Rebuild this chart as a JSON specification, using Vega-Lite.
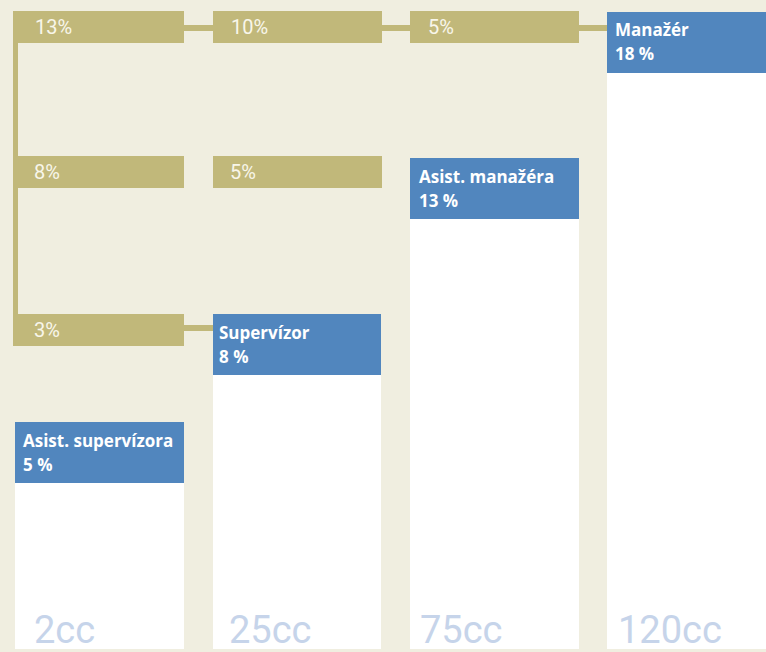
{
  "$schema": "https://vega.github.io/schema/vega-lite/v6.json",
  "width": 766,
  "height": 652,
  "autosize": {"type": "fit", "contains": "padding"},
  "padding": 0,
  "background": "#F0EEE0",
  "config": {"view": {"stroke": null}},
  "datasets": {
    "shapes": [
      {"kind": "column", "x": 15, "x2": 184, "y": 422, "y2": 649},
      {"kind": "column", "x": 213, "x2": 381, "y": 314, "y2": 649},
      {"kind": "column", "x": 410, "x2": 579, "y": 158, "y2": 649},
      {"kind": "column", "x": 607, "x2": 766, "y": 12, "y2": 649},
      {"kind": "role", "x": 15, "x2": 184, "y": 422, "y2": 483},
      {"kind": "role", "x": 213, "x2": 381, "y": 314, "y2": 375},
      {"kind": "role", "x": 410, "x2": 579, "y": 158, "y2": 219},
      {"kind": "role", "x": 607, "x2": 766, "y": 12, "y2": 73},
      {"kind": "link", "x": 13, "x2": 18, "y": 11, "y2": 346},
      {"kind": "link", "x": 184, "x2": 213, "y": 25, "y2": 31},
      {"kind": "link", "x": 381, "x2": 410, "y": 25, "y2": 31},
      {"kind": "link", "x": 579, "x2": 607, "y": 25, "y2": 31},
      {"kind": "link", "x": 184, "x2": 213, "y": 325, "y2": 331},
      {"kind": "step", "x": 13, "x2": 184, "y": 11, "y2": 43},
      {"kind": "step", "x": 213, "x2": 382, "y": 11, "y2": 43},
      {"kind": "step", "x": 410, "x2": 579, "y": 11, "y2": 43},
      {"kind": "step", "x": 13, "x2": 184, "y": 156, "y2": 188},
      {"kind": "step", "x": 213, "x2": 382, "y": 156, "y2": 188},
      {"kind": "step", "x": 13, "x2": 184, "y": 314, "y2": 346}
    ],
    "labels": [
      {"group": "step", "label": "13%", "x": 35, "y": 28},
      {"group": "step", "label": "10%", "x": 231, "y": 28},
      {"group": "step", "label": "5%", "x": 428, "y": 28},
      {"group": "step", "label": "8%", "x": 34, "y": 173},
      {"group": "step", "label": "5%", "x": 230, "y": 173},
      {"group": "step", "label": "3%", "x": 34, "y": 331},
      {"group": "role", "label": "Asist. supervízora", "x": 23, "y": 442},
      {"group": "role", "label": "5 %", "x": 23, "y": 466},
      {"group": "role", "label": "Supervízor", "x": 219, "y": 334},
      {"group": "role", "label": "8 %", "x": 219, "y": 358},
      {"group": "role", "label": "Asist. manažéra", "x": 419, "y": 178},
      {"group": "role", "label": "13 %", "x": 419, "y": 202},
      {"group": "role", "label": "Manažér", "x": 615, "y": 31},
      {"group": "role", "label": "18 %", "x": 615, "y": 55},
      {"group": "size", "label": "2cc", "x": 34, "y": 643},
      {"group": "size", "label": "25cc", "x": 229, "y": 643},
      {"group": "size", "label": "75cc", "x": 420, "y": 643},
      {"group": "size", "label": "120cc", "x": 618, "y": 643}
    ]
  },
  "layer": [
    {
      "data": {"name": "shapes"},
      "mark": {"type": "rect"},
      "encoding": {
        "x": {"field": "x", "type": "quantitative", "scale": {"domain": [0, 766], "nice": false, "zero": false}, "axis": null},
        "x2": {"field": "x2"},
        "y": {"field": "y", "type": "quantitative", "scale": {"domain": [0, 652], "nice": false, "zero": false, "reverse": true}, "axis": null},
        "y2": {"field": "y2"},
        "color": {"field": "kind", "type": "nominal", "legend": null, "scale": {"domain": ["column", "role", "step", "link"], "range": ["#FFFFFF", "#5186BE", "#C1B87A", "#C1B87A"]}}
      }
    },
    {
      "data": {"name": "labels"},
      "transform": [{"filter": "datum.group === 'step'"}],
      "mark": {"type": "text", "align": "left", "baseline": "middle", "font": "Roboto", "fontSize": 20, "color": "#F8F6EA"},
      "encoding": {
        "x": {"field": "x", "type": "quantitative"},
        "y": {"field": "y", "type": "quantitative"},
        "text": {"field": "label"}
      }
    },
    {
      "data": {"name": "labels"},
      "transform": [{"filter": "datum.group === 'role'"}],
      "mark": {"type": "text", "align": "left", "baseline": "middle", "font": "Open Sans", "fontWeight": "bold", "fontSize": 17, "color": "#FFFFFF"},
      "encoding": {
        "x": {"field": "x", "type": "quantitative"},
        "y": {"field": "y", "type": "quantitative"},
        "text": {"field": "label"}
      }
    },
    {
      "data": {"name": "labels"},
      "transform": [{"filter": "datum.group === 'size'"}],
      "mark": {"type": "text", "align": "left", "baseline": "alphabetic", "font": "Roboto", "fontSize": 38, "color": "#C6D4EA"},
      "encoding": {
        "x": {"field": "x", "type": "quantitative"},
        "y": {"field": "y", "type": "quantitative"},
        "text": {"field": "label"}
      }
    }
  ]
}
